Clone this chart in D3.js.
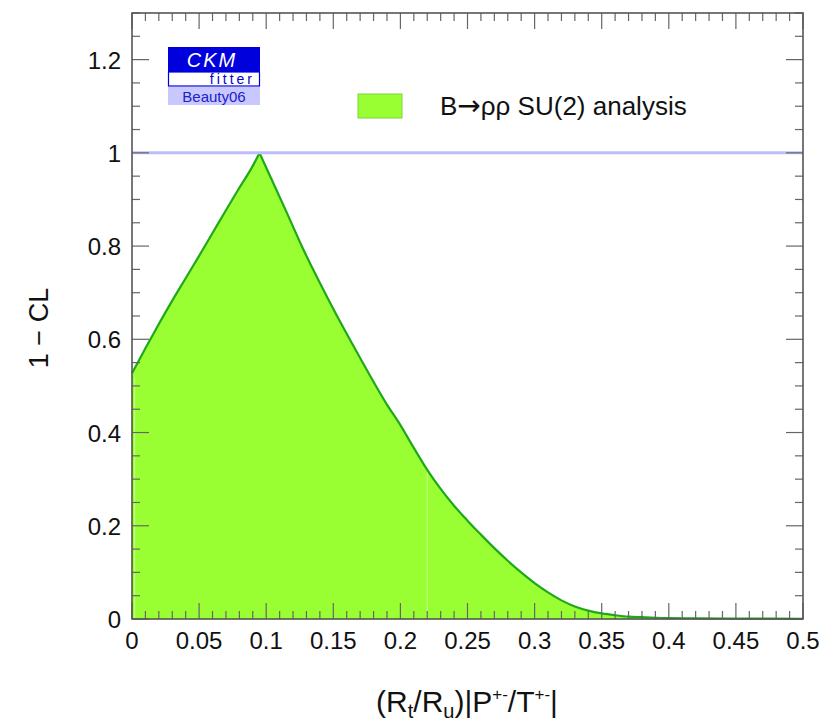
<!DOCTYPE html>
<html><head><meta charset="utf-8">
<script src="https://cdn.jsdelivr.net/npm/d3@7"></script>
<style>body{margin:0;background:#fff;} svg{display:block;font-family:"Liberation Sans",Arial,Helvetica,sans-serif;}</style>
</head><body>
<svg id="c" width="827" height="723"></svg>
<script>
// data: scan of 1-CL vs (Rt/Ru)|P+-/T+-|  (rising branch up to the peak, then falling branch)
const xsLeft = [0, 0.01, 0.02, 0.03, 0.04, 0.05, 0.06, 0.07, 0.08, 0.09, 0.095];
const clLeft = [0.527, 0.581, 0.633, 0.683, 0.731, 0.779, 0.828, 0.877, 0.925, 0.972, 1.0];
const xsRight = [0.095, 0.105, 0.115, 0.127, 0.1475, 0.17, 0.19, 0.2, 0.21, 0.22, 0.23, 0.24, 0.25, 0.26, 0.27,
  0.28, 0.29, 0.3, 0.31, 0.32, 0.33, 0.34, 0.35, 0.36, 0.37, 0.38, 0.4, 0.42, 0.45, 0.5];
const clRight = [1.0, 0.937, 0.874, 0.797, 0.679, 0.56, 0.46, 0.416, 0.367, 0.32, 0.279, 0.243, 0.211, 0.181, 0.152,
  0.125, 0.1, 0.077, 0.057, 0.04, 0.027, 0.018, 0.012, 0.008, 0.005, 0.004, 0.002, 0.0015, 0.001, 0.0005];
const xTicks = [0, 0.05, 0.1, 0.15, 0.2, 0.25, 0.3, 0.35, 0.4, 0.45, 0.5];
const xTickLabels = ["0","0.05","0.1","0.15","0.2","0.25","0.3","0.35","0.4","0.45","0.5"];
const yTicks = [0, 0.2, 0.4, 0.6, 0.8, 1, 1.2];
const yTickLabels = ["0","0.2","0.4","0.6","0.8","1","1.2"];
const legendParts = ["B", "\u2192", "\u03c1\u03c1 SU(2) analysis"];
const refLine = 1;
const seamX = 0.22;

const svg = d3.select("#c");
const L = 132, T = 13, R = 803, B = 619;
const x = d3.scaleLinear().domain([0, 0.5]).range([L, R]);
const y = d3.scaleLinear().domain([0, 1.3]).range([B, T]);
const left = xsLeft.map((v, i) => [v, clLeft[i]]);
const right = xsRight.map((v, i) => [v, clRight[i]]);

const area = d3.area().curve(d3.curveMonotoneX).x(d => x(d[0])).y0(y(0)).y1(d => y(d[1]));
const line = d3.line().curve(d3.curveMonotoneX).x(d => x(d[0])).y(d => y(d[1]));
[left, right].forEach(seg => {
  svg.append("path").datum(seg).attr("d", area).attr("fill", "#99ff33")
    .attr("stroke", "#99ff33").attr("stroke-width", 0.6);
});
// faint seams inside fill
const seamY = d3.scaleLinear().domain(xsRight).range(clRight)(seamX);
svg.append("line").attr("x1", x(seamX)).attr("x2", x(seamX)).attr("y1", y(seamY) + 2).attr("y2", y(0))
  .attr("stroke", "#c4ff90").attr("stroke-width", 1);
svg.append("line").attr("x1", x(0.002)).attr("x2", x(0.002)).attr("y1", y(clLeft[0]) + 4).attr("y2", y(0))
  .attr("stroke", "#c4ff90").attr("stroke-width", 1);
// curve
[left, right].forEach(seg => {
  svg.append("path").datum(seg).attr("d", line)
    .attr("fill", "none").attr("stroke", "#1fa81a").attr("stroke-width", 2.2).attr("stroke-linejoin", "round");
});
// reference line
svg.append("line").attr("x1", L).attr("x2", R).attr("y1", y(refLine)).attr("y2", y(refLine))
  .attr("stroke", "#bcbcff").attr("stroke-width", 3);

// axes (ROOT style, inward ticks on all sides)
const axCol = "#666";
const g = svg.append("g");
const xMinor = d3.range(0, 0.5001, 0.01);
const yMinor = d3.range(0, 1.3001, 0.05);
xMinor.forEach(v => {
  const major = Math.abs(Math.round(v / 0.05) * 0.05 - v) < 1e-6;
  const len = major ? 16 : 8;
  g.append("line").attr("x1", x(v)).attr("x2", x(v)).attr("y1", B).attr("y2", B - len).attr("stroke", axCol).attr("stroke-width", 1.2);
  g.append("line").attr("x1", x(v)).attr("x2", x(v)).attr("y1", T).attr("y2", T + len).attr("stroke", axCol).attr("stroke-width", 1.2);
});
yMinor.forEach(v => {
  const major = Math.abs(Math.round(v / 0.2) * 0.2 - v) < 1e-6;
  const len = major ? 17 : 8;
  g.append("line").attr("y1", y(v)).attr("y2", y(v)).attr("x1", L).attr("x2", L + len).attr("stroke", axCol).attr("stroke-width", 1.2);
  g.append("line").attr("y1", y(v)).attr("y2", y(v)).attr("x1", R).attr("x2", R - len).attr("stroke", axCol).attr("stroke-width", 1.2);
});
g.append("rect").attr("x", L).attr("y", T).attr("width", R - L).attr("height", B - T)
  .attr("fill", "none").attr("stroke", "#555").attr("stroke-width", 1.6);

// tick labels
svg.append("g").selectAll("text").data(xTicks).join("text")
  .attr("x", d => x(d)).attr("y", 649).attr("text-anchor", "middle")
  .attr("font-size", 24).attr("fill", "#111").text((d, i) => xTickLabels[i]);
svg.append("g").selectAll("text").data(yTicks).join("text")
  .attr("x", 121).attr("y", d => y(d) + 9).attr("text-anchor", "end")
  .attr("font-size", 24).attr("fill", "#111").text((d, i) => yTickLabels[i]);

// axis titles
svg.append("text").attr("transform", "translate(48,328) rotate(-90)").attr("text-anchor", "middle")
  .attr("font-size", 27).attr("fill", "#111").text("1 \u2212 CL");
const xt = svg.append("text").attr("x", 467).attr("y", 712).attr("text-anchor", "middle")
  .attr("font-size", 30).attr("fill", "#111");
xt.append("tspan").text("(R");
xt.append("tspan").attr("font-size", 20).attr("dy", 6).text("t");
xt.append("tspan").attr("dy", -6).text("/R");
xt.append("tspan").attr("font-size", 20).attr("dy", 6).text("u");
xt.append("tspan").attr("dy", -6).text(")|P");
xt.append("tspan").attr("font-size", 17).attr("dy", -12).text("+-");
xt.append("tspan").attr("dy", 12).text("/T");
xt.append("tspan").attr("font-size", 17).attr("dy", -12).text("+-");
xt.append("tspan").attr("dy", 12).text("|");

// legend
svg.append("rect").attr("x", 358).attr("y", 94).attr("width", 44).attr("height", 24)
  .attr("fill", "#99ff33").attr("stroke", "#7fd43a").attr("stroke-width", 1);
const lt = svg.append("text").attr("x", 440).attr("y", 115).attr("font-size", 26).attr("fill", "#111");
lt.append("tspan").text(legendParts[0]);
lt.append("tspan").attr("font-family", "DejaVu Sans").attr("font-size", 28).text(legendParts[1]);
lt.append("tspan").text(legendParts[2]);

// CKMfitter logo
const lg = svg.append("g");
lg.append("rect").attr("x", 168).attr("y", 47).attr("width", 92).attr("height", 25).attr("fill", "#0000dd");
lg.append("text").attr("x", 212).attr("y", 67).attr("text-anchor", "middle").attr("font-size", 20)
  .attr("font-style", "italic").attr("letter-spacing", 2).attr("fill", "#fff").text("CKM");
lg.append("rect").attr("x", 168.5).attr("y", 72).attr("width", 91).attr("height", 14).attr("fill", "#fff")
  .attr("stroke", "#0000dd").attr("stroke-width", 1.2);
lg.append("text").attr("x", 255).attr("y", 84).attr("text-anchor", "end").attr("font-size", 14)
  .attr("letter-spacing", 3).attr("fill", "#0000cc").text("fitter");
lg.append("rect").attr("x", 168).attr("y", 87).attr("width", 92).attr("height", 18).attr("fill", "#c8c8ff");
lg.append("text").attr("x", 214).attr("y", 102).attr("text-anchor", "middle").attr("font-size", 15)
  .attr("fill", "#2020cc").text("Beauty06");
</script>
</body></html>
